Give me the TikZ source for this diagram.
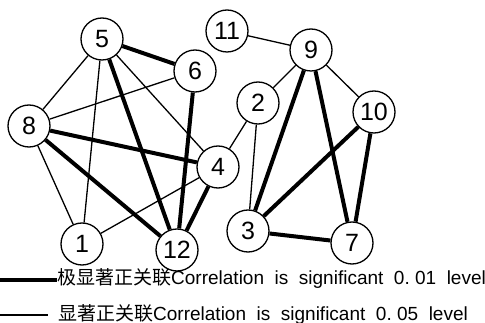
\documentclass[tikz,border=0pt]{standalone}
\usepackage{fontspec}
\setmainfont{Liberation Sans}
\newfontfamily\cjk{Noto Sans CJK SC}
\usetikzlibrary{positioning}
\tikzset{
    site/.style={
           circle,
           draw=black, line width=1.3pt,
           minimum size=42pt,
           inner sep=0pt,
           font=\fontsize{25}{25}\selectfont,
           text centered},
    weak/.style={
           line width=1.3pt},
    strong/.style={
           line width=4pt}
}

\begin{document}
\begin{tikzpicture}[x=1pt, y=-1pt]
        \useasboundingbox (0,0) rectangle (485,323);
        \node[site] (n5) at (102,39)  {5};
        \node[site] (n6) at (195,71)  {6};
        \node[site] (n8) at (29,126)  {8};
        \node[site] (n4) at (218,167) {4};
        \node[site] (n1) at (82,244)  {1};
        \node[site] (n12) at (177,250) {12};
        \node[site] (n11) at (227,31) {11};
        \node[site] (n9) at (311,50)  {9};
        \node[site] (n2) at (258,103) {2};
        \node[site] (n10) at (374,112) {10};
        \node[site] (n3) at (248,231) {3};
        \node[site] (n7) at (352,243) {7};

        \draw[weak] (n5) -- (n8);
        \draw[weak] (n5) -- (n1);
        \draw[weak] (n5) -- (n4);
        \draw[weak] (n6) -- (n8);
        \draw[weak] (n8) -- (n1);
        \draw[weak] (n1) -- (n4);
        \draw[weak] (n4) -- (n2);
        \draw[weak] (n11) -- (n9);
        \draw[weak] (n9) -- (n2);
        \draw[weak] (n9) -- (n10);
        \draw[weak] (n2) -- (n3);
        \draw[strong] (n5) -- (n6);
        \draw[strong] (n5) -- (n12);
        \draw[strong] (n6) -- (n12);
        \draw[strong] (n8) -- (n4);
        \draw[strong] (n8) -- (n12);
        \draw[strong] (n4) -- (n12);
        \draw[strong] (n9) -- (n3);
        \draw[strong] (n9) -- (n7);
        \draw[strong] (n10) -- (n3);
        \draw[strong] (n10) -- (n7);
        \draw[strong] (n3) -- (n7);

        \coordinate (k1) at (0,280);
        \coordinate (k2) at (0,315);
        \node[anchor=base west, inner sep=0pt, font=\fontsize{19}{19}\selectfont] (t1) at (57,285)
            {{\cjk 极显著正关联}Correlation\ \ is\ \ significant\ \ 0.\ 01\ \ level};
        \node[anchor=base west, inner sep=0pt, font=\fontsize{19}{19}\selectfont] (t2) at (58,320)
            {{\cjk 显著正关联}Correlation\ \ is\ \ significant\ \ 0.\ 05\ \ level};
        \draw[strong] (k1) -- (t1.west |- k1);
        \draw[weak] (k2) -- ([xshift=-10pt]t2.west |- k2);
    \end{tikzpicture}
\end{document}
